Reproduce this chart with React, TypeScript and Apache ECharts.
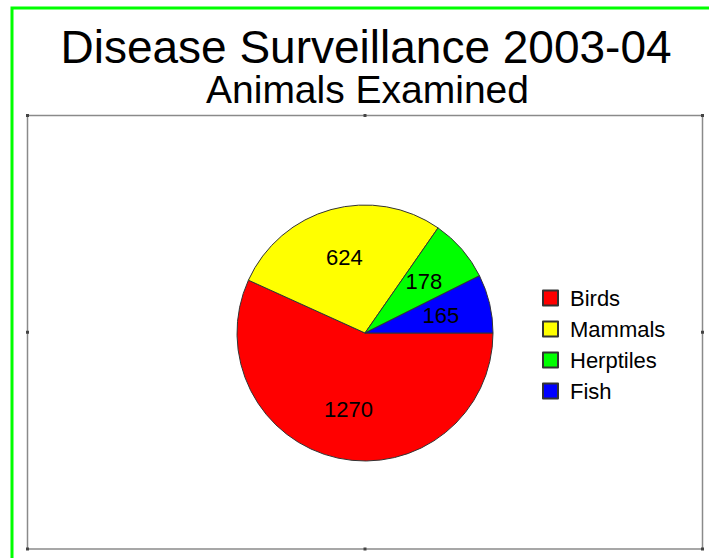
import React, { useEffect, useRef } from "react";
import * as echarts from "echarts";

const titleText = "Disease Surveillance 2003-04";
const subtitleText = "Animals Examined";
const categories = ["Birds", "Mammals", "Herptiles", "Fish"];
const values = [1270, 624, 178, 165];
const colors = ["#FF0000", "#FFFF00", "#00FF00", "#0000FF"];

const FONT = '"Liberation Sans", Arial, sans-serif';

export default function App() {
  const ref = useRef<HTMLDivElement>(null);

  useEffect(() => {
    if (!ref.current) return;
    const chart = echarts.init(ref.current, undefined, { renderer: "svg" });

    const mainData = categories.map((name, i) => ({
      name,
      value: values[i],
      itemStyle: { color: colors[i] },
    }));
    const labelData = categories.map((name, i) => ({
      name,
      value: values[i],
    }));

    // frame ticks
    const fx0 = 27.5, fy0 = 115.5, fx1 = 702.5, fy1 = 549;
    const mx = (fx0 + fx1) / 2, my = (fy0 + fy1) / 2;
    const tickPts = [
      [fx0, fy0], [mx, fy0], [fx1, fy0],
      [fx0, my], [fx1, my],
      [fx0, fy1], [mx, fy1], [fx1, fy1],
    ];

    const option: any = {
      animation: false,
      backgroundColor: "#ffffff",
      color: colors,
      legend: {
        orient: "vertical",
        left: 542,
        top: 287,
        padding: 0,
        itemWidth: 15,
        itemHeight: 15,
        itemGap: 9,
        icon: "rect",
        selectedMode: false,
        data: categories,
        textStyle: {
          fontSize: 22,
          fontFamily: FONT,
          color: "#000",
          padding: [0, 0, 0, 7],
        },
      },
      graphic: [
        {
          type: "rect",
          silent: true,
          shape: { x: 12, y: 8, width: 900, height: 800 },
          style: { fill: "none", stroke: "#00FF00", lineWidth: 3 },
          z: 0,
        },
        {
          type: "rect",
          silent: true,
          shape: { x: fx0, y: fy0, width: fx1 - fx0, height: fy1 - fy0 },
          style: { fill: "none", stroke: "#8a8a8a", lineWidth: 1.5 },
          z: 0,
        },
        ...tickPts.map(([x, y]) => ({
          type: "rect",
          silent: true,
          shape: { x: x - 1.5, y: y - 1.5, width: 3, height: 3 },
          style: { fill: "#444" },
          z: 1,
        })),
        {
          type: "text",
          silent: true,
          x: 366,
          y: 47,
          style: {
            text: titleText,
            fontSize: 46,
            lineHeight: 40,
            fontFamily: FONT,
            fill: "#000",
            align: "center",
            verticalAlign: "middle",
          },
        },
        {
          type: "text",
          silent: true,
          x: 367.5,
          y: 89.5,
          style: {
            text: subtitleText,
            fontSize: 39,
            lineHeight: 34,
            fontFamily: FONT,
            fill: "#000",
            align: "center",
            verticalAlign: "middle",
          },
        },
      ],
      series: [
        {
          type: "pie",
          name: "main",
          center: [365, 333],
          radius: 128,
          startAngle: 0,
          clockwise: true,
          silent: true,
          avoidLabelOverlap: false,
          label: { show: false },
          labelLine: { show: false },
          itemStyle: { borderColor: "#333", borderWidth: 1 },
          data: mainData,
          z: 2,
        },
        {
          type: "pie",
          name: "labels",
          center: [365, 333],
          radius: [22, 128],
          startAngle: 0,
          clockwise: true,
          silent: true,
          avoidLabelOverlap: false,
          legendHoverLink: false,
          itemStyle: { color: "rgba(0,0,0,0)", borderWidth: 0 },
          label: {
            show: true,
            position: "inside",
            formatter: "{c}",
            fontSize: 22,
            fontFamily: FONT,
            color: "#000",
          },
          labelLine: { show: false },
          data: labelData,
          z: 3,
        },
      ],
    };
    chart.setOption(option);
    return () => {
      chart.dispose();
    };
  }, []);

  return (
    <div
      ref={ref}
      style={{
        position: "fixed",
        left: 0,
        top: 0,
        width: 709,
        height: 558,
        background: "#fff",
      }}
    />
  );
}
